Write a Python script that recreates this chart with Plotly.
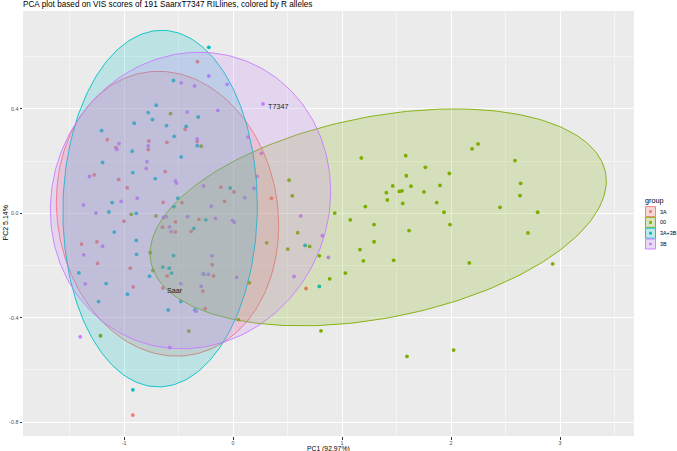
import numpy as np
import plotly.graph_objects as go

# ---------------- data ----------------
groups = ["3A", "00", "3A+3B", "3B"]
colors = ["#F8766D", "#7CAE00", "#00BFC4", "#C77CFF"]

x_3A = [-0.326, -0.439, -1.154, -0.772, -0.607, -0.329, -1.075, -0.778, -0.622, -1.274,
        -1.050, -0.971, -0.112, -0.469, -0.641, -0.078, -1.001, -0.528, -0.313,
        0.009, 0.352,
        -1.390, -1.249, -1.243, -0.943, -0.916, -0.647, -0.528, -0.384, -0.604, -0.644,
        -0.191, -0.179, -0.277, -0.255, -0.919,
        0.670]
y_3A = [0.581, 0.322, 0.282, 0.277, 0.272, 0.275, 0.252, 0.244, 0.160, 0.147,
        0.130, 0.098, 0.100, 0.041, 0.042, 0.046, -0.030, -0.033, -0.023,
        0.082, 0.058,
        -0.118, -0.109, -0.192, -0.210, -0.282, -0.053, -0.071, -0.069, -0.240, -0.286,
        -0.197, -0.240, -0.298, -0.365, -0.773,
        -0.288]

x_00 = [-0.573, -0.292, -0.934, -0.708,
        0.514, 0.544, 0.933, 1.076, 1.294, 1.177, 1.584, 1.765, 1.590, 1.465, 1.633,
        1.407, 1.526, 1.550, 1.752, 1.416, 1.557, 1.214, 1.869,
        2.248, 2.193, 2.587, 1.985, 1.899, 2.639, 2.633, 2.450, 1.936, 2.795, 1.991,
        -0.760, -0.735, -0.405, -1.216,
        0.150, 0.049, 0.309, 0.593, 0.502, 0.703, 0.792, 0.887, 1.031, 1.165, 1.294,
        1.196, 1.474, 1.615, 0.807, 1.596,
        2.706, 2.168, 2.933, 2.024]
y_00 = [0.382, 0.257, -0.004, -0.010,
        0.127, 0.067, 0.001, -0.025, -0.043, 0.212, 0.221, 0.176, 0.144, 0.105, 0.104,
        0.079, 0.084, 0.086, 0.082, 0.051, 0.038, 0.026, 0.041,
        0.266, 0.247, 0.202, 0.153, 0.107, 0.115, 0.068, 0.023, 0.004, 0.004, -0.043,
        -0.151, -0.219, -0.451, -0.469,
        -0.266, -0.407, -0.113, -0.074, -0.137, -0.127, -0.163, -0.251, -0.229, -0.139, -0.109,
        -0.182, -0.180, -0.066, -0.450, -0.548,
        -0.075, -0.190, -0.194, -0.524]

x_3A3B = [-0.222, -0.546, -0.705, -0.778, -0.739, -0.320, -0.907, -0.610, -0.430, -1.206,
          -0.540, -0.329, -0.925, -0.476, -1.197, -0.919, -0.714, -0.026, -0.506, -1.109,
          -1.139, -0.888, -0.543, -0.249,
          -1.090, -0.888, -0.885, -1.414, -1.164, -0.968, -1.234, -0.766, -0.359, -0.546,
          -0.644, -0.586, -0.564, -0.269, -0.479, -0.595, -0.350, -0.919,
          0.661, 0.792]
y_3A3B = [0.636, 0.509, 0.414, 0.386, 0.359, 0.369, 0.345, 0.336, 0.333, 0.317,
          0.295, 0.259, 0.238, 0.216, 0.195, 0.156, 0.133, 0.097, 0.058, 0.041,
          0.005, 0.000, 0.026, -0.025,
          -0.072, -0.104, -0.157, -0.228, -0.269, -0.310, -0.338, -0.241, -0.058, -0.162,
          -0.206, -0.210, -0.229, -0.233, -0.338, -0.370, -0.370, -0.676,
          -0.123, -0.280]

x_3B = [-0.222, -0.054, -0.476, -0.353, -0.420, -0.139, -1.047, -0.329, -1.066, -0.778,
        -0.790, -0.797, -1.317, -0.528, -0.518, -0.271, -0.879, -0.200, -1.372, -1.026,
        -1.258, -0.638, -0.613, -0.417, -0.161, -0.006,
        0.275, 0.138, 0.260, 0.220, 0.193, 0.107, 0.621, 0.012,
        -1.197, -1.369, -1.356, -0.583, -0.567, -0.479, -0.194, -0.274, -0.225, -0.292,
        -0.338, -1.402, -0.580,
        0.034, 0.820, 0.875, 0.560]
y_3B = [0.526, 0.494, 0.500, 0.488, 0.388, 0.394, 0.267, 0.285, 0.245, 0.258,
        0.198, 0.172, 0.141, 0.124, 0.116, 0.105, 0.058, 0.027, 0.032, 0.046,
        0.001, -0.016, -0.013, -0.013, -0.019, -0.027,
        0.419, 0.292, 0.230, 0.141, 0.096, 0.060, -0.010, -0.034,
        -0.126, -0.159, -0.270, -0.052, -0.070, -0.269, -0.163, -0.232, -0.234, -0.279,
        -0.375, -0.473, -0.514,
        -0.245, -0.086, -0.169, -0.242]

# ellipse parameters (centre, half-width, half-height, covariance-like term)
ell_cx = [-0.601, 1.332, -0.669, -0.390]
ell_cy = [-0.0015, -0.0155, 0.018, 0.049]
ell_w = [1.020, 2.093, 0.892, 1.286]
ell_h = [0.5455, 0.4155, 0.683, 0.568]
ell_c = [-0.046, 0.291, 0.010, 0.045]

label_names = ["T7347", "Saar"]
label_x = [0.275, -0.644]
label_y = [0.419, -0.286]

x_ticks = [-1, 0, 1, 2, 3]
x_ticktext = ["-1", "0", "1", "2", "3"]
y_ticks = [-0.8, -0.4, 0.0, 0.4]
y_ticktext = ["-0.8", "-0.4", "0.0", "0.4"]

title = "PCA plot based on VIS scores of 191 SaarxT7347 RILlines, colored by R alleles"
x_title = "PC1 (92.97%)"
y_title = "PC2 5.14%"

xs = [x_3A, x_00, x_3A3B, x_3B]
ys = [y_3A, y_00, y_3A3B, y_3B]

FONT = "Liberation Sans, Arial, Helvetica, sans-serif"

def rgba(hexc, a):
    h = hexc.lstrip("#")
    return f"rgba({int(h[0:2],16)},{int(h[2:4],16)},{int(h[4:6],16)},{a})"

fig = go.Figure()

# points first (ellipses drawn over them like in ggplot)
for g, c, xv, yv in zip(groups, colors, xs, ys):
    fig.add_trace(go.Scatter(x=xv, y=yv, mode="markers", name=g,
                             marker=dict(color=c, size=3.8, line=dict(width=0)),
                             showlegend=False, hoverinfo="skip"))

t = np.linspace(0, 2 * np.pi, 241)
for g, c, cx, cy, w, h, cc in zip(groups, colors, ell_cx, ell_cy, ell_w, ell_h, ell_c):
    a = cc / w
    b = np.sqrt(h * h - a * a)
    ex = cx + w * np.cos(t)
    ey = cy + a * np.cos(t) + b * np.sin(t)
    fig.add_trace(go.Scatter(x=ex, y=ey, mode="lines", fill="toself",
                             fillcolor=rgba(c, 0.2), line=dict(color=c, width=0.9),
                             showlegend=False, hoverinfo="skip"))

# point labels
for n, lx, ly in zip(label_names, label_x, label_y):
    fig.add_annotation(x=lx, y=ly, text=n, showarrow=False, xanchor="left", yanchor="middle",
                       xshift=2.5, yshift=-2.7, font=dict(family=FONT, size=7.2, color="#1a1a1a"))

# layout geometry (pixels)
W, H = 677, 451
PL, PR, PT, PB = 23, 634, 11, 436

def px2paper(px, py):
    return (px - PL) / (PR - PL), (PB - py) / (PB - PT)

fig.update_layout(
    width=W, height=H,
    margin=dict(l=PL, r=W - PR, t=PT, b=H - PB, pad=0, autoexpand=False),
    paper_bgcolor="white", plot_bgcolor="#EBEBEB",
    font=dict(family=FONT, color="#4D4D4D"),
    showlegend=False,
)

axis_common = dict(showline=False, zeroline=False, gridcolor="white", gridwidth=1,
                   ticks="outside", ticklen=2.5, tickwidth=0.7, tickcolor="#333333",
                   automargin=False,
                   tickfont=dict(family=FONT, size=5.3, color="#4D4D4D"), tickmode="array")
fig.update_xaxes(range=[-1.927, 3.679], tickvals=x_ticks, ticktext=x_ticktext,
                 ticklabelstandoff=-1,
                 minor=dict(tickvals=[-1.5, -0.5, 0.5, 1.5, 2.5, 3.5], showgrid=True,
                            gridcolor="#F5F5F5", gridwidth=0.6, ticks=""),
                 **axis_common)
fig.update_yaxes(range=[-0.853, 0.775], tickvals=y_ticks, ticktext=y_ticktext,
                 minor=dict(tickvals=[-0.6, -0.2, 0.2, 0.6], showgrid=True,
                            gridcolor="#F5F5F5", gridwidth=0.6, ticks=""),
                 **axis_common)

# title and axis titles
tx, ty = px2paper(PL - 2, 4.6)
fig.add_annotation(xref="paper", yref="paper", x=tx, y=ty, text=title, showarrow=False,
                   xanchor="left", yanchor="middle", font=dict(family=FONT, size=8.2, color="black"))
tx, ty = px2paper((PL + PR) / 2, 448.6)
fig.add_annotation(xref="paper", yref="paper", x=tx, y=ty, text=x_title, showarrow=False,
                   xanchor="center", yanchor="middle", borderpad=0,
                   font=dict(family=FONT, size=6.8, color="black"))
tx, ty = px2paper(5, (PT + PB) / 2)
fig.add_annotation(xref="paper", yref="paper", x=tx, y=ty, text=y_title, showarrow=False,
                   textangle=-90, xanchor="center", yanchor="middle",
                   font=dict(family=FONT, size=7, color="black"))

# manual legend (ggplot style keys)
tx, ty = px2paper(643, 200)
fig.add_annotation(xref="paper", yref="paper", x=tx, y=ty, text="group", showarrow=False,
                   xanchor="left", yanchor="middle", font=dict(family=FONT, size=7.2, color="black"))
for i, (g, c) in enumerate(zip(groups, colors)):
    cy_px = 211.6 + i * 10.8
    x0, y0 = px2paper(645.5, cy_px + 5)
    x1, y1 = px2paper(655.5, cy_px - 5)
    fig.add_shape(type="rect", xref="paper", yref="paper", x0=x0, y0=y0, x1=x1, y1=y1,
                  fillcolor="#F2F2F2", line=dict(width=0), layer="above")
    fig.add_shape(type="rect", xref="paper", yref="paper", x0=x0, y0=y0, x1=x1, y1=y1,
                  fillcolor=rgba(c, 0.2), line=dict(color=c, width=0.9), layer="above")
    d0x, d0y = px2paper(649, cy_px + 1.6)
    d1x, d1y = px2paper(652, cy_px - 1.6)
    fig.add_shape(type="circle", xref="paper", yref="paper", x0=d0x, y0=d0y, x1=d1x, y1=d1y,
                  fillcolor=c, line=dict(width=0), layer="above")
    lx, ly = px2paper(657.5, cy_px)
    fig.add_annotation(xref="paper", yref="paper", x=lx, y=ly, text=g, showarrow=False,
                       xanchor="left", yanchor="middle", font=dict(family=FONT, size=5.4, color="black"))

fig.write_html("out.html")
